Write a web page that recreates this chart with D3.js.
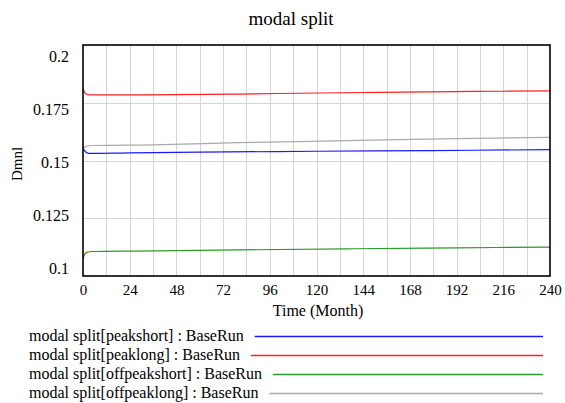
<!DOCTYPE html>
<html>
<head>
<meta charset="utf-8">
<script src="https://cdn.jsdelivr.net/npm/d3@7"></script>
<style>
  body { margin: 0; background: #fff; }
  svg text { font-family: "Liberation Serif", "DejaVu Serif", "Times New Roman", serif; fill: #000; }
</style>
</head>
<body>
<script>
// time axis (months)
const xTicks = [0, 24, 48, 72, 96, 120, 144, 168, 192, 216, 240];
const yTicks = [0.1, 0.125, 0.15, 0.175, 0.2];
const yTickLabels = ["0.1", "0.125", "0.15", "0.175", "0.2"];

// values, at these months
const peakshortT = [0, 1, 3, 24, 60, 120, 180, 240];
const peakshortV = [0.1555, 0.1540, 0.1531, 0.1533, 0.1536, 0.1540, 0.1543, 0.1547];

const peaklongT = [0, 1, 3, 48, 100, 150, 200, 240];
const peaklongV = [0.1812, 0.1793, 0.1784, 0.1785, 0.1790, 0.1795, 0.1799, 0.1801];

const offpeakshortT = [0, 1, 2, 5, 27, 80, 140, 192, 240];
const offpeakshortV = [0.1075, 0.1096, 0.1102, 0.1106, 0.1108, 0.1113, 0.1118, 0.1122, 0.1125];

const offpeaklongT = [0, 2, 5, 36, 80, 142, 184, 240];
const offpeaklongV = [0.1553, 0.1562, 0.1565, 0.1568, 0.1577, 0.1587, 0.1594, 0.1600];

const seriesNames = [
  "modal split[peakshort] : BaseRun",
  "modal split[peaklong] : BaseRun",
  "modal split[offpeakshort] : BaseRun",
  "modal split[offpeaklong] : BaseRun"
];
const seriesColors = ["#1a1aff", "#ff2020", "#2a9a2a", "#aaaaaa"];

const series = [
  [peakshortT, peakshortV],
  [peaklongT, peaklongV],
  [offpeakshortT, offpeakshortV],
  [offpeaklongT, offpeaklongV]
].map(([t, v], i) => ({
  name: seriesNames[i],
  color: seriesColors[i],
  points: t.map((d, j) => ({ t: d, v: v[j] }))
}));

const width = 565, height = 403;
const plotL = 83, plotR = 550, plotT = 45, plotB = 276;

const x = d3.scaleLinear().domain([0, 240]).range([plotL, plotR]);
const y = d3.scaleLinear().domain([0.1, 0.2]).range([plotB, plotT]);
// Vensim puts the value labels a little inside the frame
const yLab = d3.scaleLinear().domain([0.1, 0.2]).range([268, 56]);

const svg = d3.select("body").append("svg")
  .attr("width", width)
  .attr("height", height);

svg.append("text")
  .attr("x", 291).attr("y", 25)
  .attr("text-anchor", "middle")
  .style("font-size", "19px")
  .text("modal split");

// grid
const grid = svg.append("g").attr("stroke", "#d4d4d4").attr("stroke-width", 1);
grid.selectAll("line.v")
  .data(d3.range(12, 240, 12))
  .enter().append("line")
  .attr("x1", d => Math.round(x(d)) + 0.5).attr("x2", d => Math.round(x(d)) + 0.5)
  .attr("y1", plotT).attr("y2", plotB);
grid.selectAll("line.h")
  .data(yTicks.slice(1, -1))
  .enter().append("line")
  .attr("x1", plotL).attr("x2", plotR)
  .attr("y1", d => Math.round(y(d)) + 0.5).attr("y2", d => Math.round(y(d)) + 0.5);

// series
const line = d3.line()
  .x(d => x(d.t))
  .y(d => y(d.v))
  .curve(d3.curveMonotoneX);

svg.selectAll("path.series")
  .data(series)
  .enter().append("path")
  .attr("class", "series")
  .attr("fill", "none")
  .attr("stroke", d => d.color)
  .attr("stroke-width", 1.2)
  .attr("d", d => line(d.points));

// frame
svg.append("rect")
  .attr("x", plotL).attr("y", plotT)
  .attr("width", plotR - plotL).attr("height", plotB - plotT)
  .attr("fill", "none")
  .attr("stroke", "#000")
  .attr("stroke-width", 1.6);

// x labels
const xAxis = d3.axisBottom(x).tickValues(xTicks).tickSize(0).tickPadding(8);
const gx = svg.append("g")
  .attr("transform", `translate(0,${plotB})`)
  .call(xAxis);
gx.select(".domain").remove();
gx.attr("font-family", null);
gx.selectAll("text").style("font-size", "15px");

// y labels
const gy = svg.append("g")
  .attr("transform", `translate(${plotL - 14},0)`)
  .call(d3.axisLeft(yLab).tickValues(yTicks).tickFormat((d, i) => yTickLabels[i]).tickSize(0).tickPadding(0));
gy.select(".domain").remove();
gy.attr("font-family", null);
gy.selectAll("text").style("font-size", "16px");

svg.append("text")
  .attr("x", 318).attr("y", 316)
  .attr("text-anchor", "middle")
  .style("font-size", "16px")
  .text("Time (Month)");

svg.append("text")
  .attr("transform", "translate(22,164) rotate(-90)")
  .attr("text-anchor", "middle")
  .style("font-size", "15px")
  .text("Dmnl");

// legend
const legendRows = [336, 355, 374, 393];
const lg = svg.selectAll("g.legend")
  .data(series)
  .enter().append("g")
  .attr("class", "legend")
  .attr("transform", (d, i) => `translate(0,${legendRows[i]})`);

lg.append("text")
  .attr("x", 29).attr("y", 5)
  .style("font-size", "16px")
  .text(d => d.name);

lg.each(function (d) {
  const g = d3.select(this);
  const w = g.select("text").node().getComputedTextLength();
  g.append("line")
    .attr("x1", 29 + w + 11).attr("x2", 543)
    .attr("y1", 0.5).attr("y2", 0.5)
    .attr("stroke", d.color)
    .attr("stroke-width", 1.4);
});
</script>
</body>
</html>
